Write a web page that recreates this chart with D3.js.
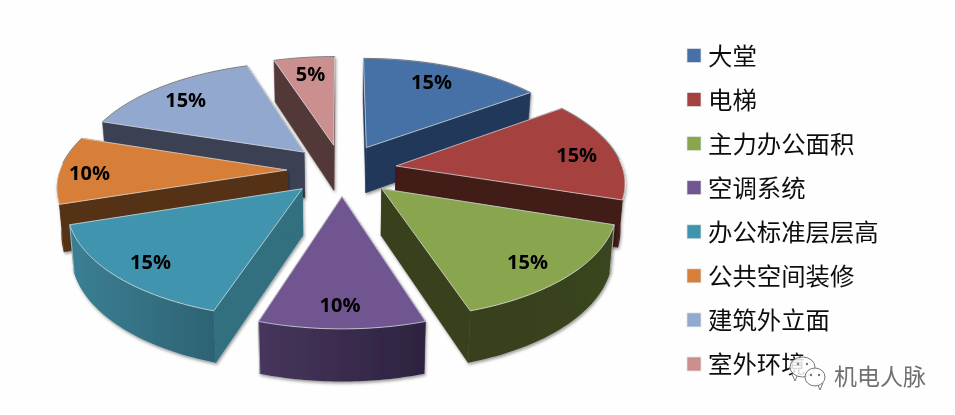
<!DOCTYPE html>
<html><head><meta charset="utf-8">
<script src="https://cdnjs.cloudflare.com/ajax/libs/d3/7.8.5/d3.min.js"></script>
<style>html,body{margin:0;padding:0;background:#fff;overflow:hidden}svg{display:block}</style>
</head><body><svg id="c" width="955" height="415"></svg>
<script>
const categories=["大堂","电梯","主力办公面积","空调系统","办公标准层层高","公共空间装修","建筑外立面","室外环境"];
const values=[15,15,15,10,15,10,15,5];
const labels=["15%","15%","15%","10%","15%","10%","15%","5%"];
const topColors=["#4571a7","#a54240","#89a54e","#6f5590","#3f94ad","#d77f39","#92a8cf","#cb8f8f"];
const sideColors=["#24395a","#431a18","#373f1c","#433253","#30707f","#543318","#3a4053","#533838"];
const arcColors=[["#24395a","#24395a"],["#431a18","#431a18"],["#373f1c","#3a4520"],["#47355c","#2d2340"],["#3b7f94","#2d6373"],["#543318","#543318"],["#3a4053","#3a4053"],["#533838","#533838"]];
const labelFrac=[.8,.8,.8,.8,.82,.87,.8,.8];
const labelDx=[-6,6,0,-2,-2,0,-4,1];
const labelDy=[0,2,4,5,2,2,1,0];
const drawOrder=[7,6,0,5,1,4,2,3];

const cx=342,cy=170,R=227,explode=55,tilt=.47,D=1700,depth=46,shrink=.016;
const svg=d3.select("#c");
const defs=svg.append("defs");
const f=defs.append("filter").attr("id","sh").attr("x","-10%").attr("y","-10%").attr("width","120%").attr("height","120%");
f.append("feDropShadow").attr("dx",1).attr("dy",2).attr("stdDeviation",1.4).attr("flood-color","#000").attr("flood-opacity",.38);
const soft=defs.append("filter").attr("id","soft").attr("x","-2%").attr("y","-2%").attr("width","104%").attr("height","104%");
soft.append("feGaussianBlur").attr("stdDeviation",.45);

svg.append("rect").attr("width",955).attr("height",415).attr("fill","#fefefe");
const root=svg.append("g").attr("filter","url(#soft)");

const pie=d3.pie().sort(null).value(d=>d);
const arcs=pie(values);
const line=d3.line();
const project=(X,Y,z=0)=>{const p=1/(1-Y/D),s=1-shrink*z/depth;return [cx+X*p*s,cy+Y*tilt*p*s+z*p];};
const world=(a,r,e,mid)=>[e*Math.sin(mid)+r*Math.sin(a),-e*Math.cos(mid)-r*Math.cos(a)];

arcColors.forEach((c,i)=>{
  const g=defs.append("linearGradient").attr("id","ag"+i);
  g.append("stop").attr("offset",0).attr("stop-color",c[0]);
  g.append("stop").attr("offset",1).attr("stop-color",c[1]);
});

const slices=root.selectAll("g.slice").data(drawOrder).join("g").attr("class","slice").attr("filter","url(#sh)");
slices.each(function(i){
  const d=arcs[i],g=d3.select(this),mid=(d.startAngle+d.endAngle)/2;
  const a0=d.startAngle,a1=d.endAngle;
  const P=(a,r,z)=>{const w=world(a,r,explode,mid);return project(w[0],w[1],z);};
  const sample=d3.range(0,41).map(t=>a0+(a1-a0)*t/40);
  const wall=(a)=>[P(a,0,0),P(a,R,0),P(a,R,depth),P(a,0,depth)];
  [a0,a1].forEach(a=>g.append("path").attr("d",line(wall(a))+"Z").attr("fill",sideColors[i]).attr("stroke",sideColors[i]).attr("stroke-width",.6));
  const front=sample.filter(a=>Math.cos(a)<0);
  if(front.length>1){
    const pts=front.map(a=>P(a,R,0)).concat(front.slice().reverse().map(a=>P(a,R,depth)));
    g.append("path").attr("d",line(pts)+"Z").attr("fill",`url(#ag${i})`).attr("stroke","none");
    const corner=Math.sin(mid)>0?a0:a1;
    if(Math.cos(corner)<0) g.append("path").attr("d",line([P(corner,R,0),P(corner,R,depth)])).attr("stroke","#c9ced0").attr("stroke-opacity",.7).attr("stroke-width",1);
  }
  const top=[P(a0,0,0)].concat(sample.map(a=>P(a,R,0)));
  g.append("path").attr("d",line(top)+"Z").attr("fill",topColors[i]).attr("stroke","#d9dde0").attr("stroke-opacity",.75).attr("stroke-width",1).attr("stroke-linejoin","round");
  const back=sample.filter(a=>Math.cos(a)>0.05);
  if(back.length>1) g.append("path").attr("d",line(back.map(a=>P(a,R,0)))).attr("fill","none").attr("stroke","#555").attr("stroke-opacity",.7).attr("stroke-width",1);
});

root.selectAll("text.val").data(drawOrder).join("text").attr("class","val")
  .each(function(i){
    const d=arcs[i],mid=(d.startAngle+d.endAngle)/2;
    const w=world(mid,R*labelFrac[i],explode,mid),q=project(w[0],w[1]);
    d3.select(this).attr("x",q[0]+labelDx[i]).attr("y",q[1]+labelDy[i]).text(labels[i]);
  })
  .attr("text-anchor","middle").attr("dominant-baseline","central")
  .attr("font-family","'Open Sans','Noto Sans',sans-serif").attr("font-weight",700).attr("font-size",20).attr("fill","#000");

const yLegend=d3.scalePoint().domain(categories).range([55.5,364]);
const leg=root.selectAll("g.leg").data(categories).join("g").attr("class","leg").attr("transform",d=>`translate(0,${yLegend(d)})`);
leg.append("rect").attr("x",687).attr("y",-7).attr("width",14).attr("height",14).attr("fill",(d,i)=>topColors[i]).attr("stroke","#e4e6ea").attr("stroke-width",.7);
leg.append("text").attr("x",708).attr("y",-1.5).attr("dominant-baseline","central").attr("font-family","'Noto Sans CJK SC',sans-serif").attr("font-size",24.4).attr("fill","#111").text(d=>d);

const wm=svg.append("g").attr("filter","url(#soft)");
const bub=(x,y,rx,ry,tx,ty)=>{
  wm.append("path").attr("d",`M${tx-3},${ty-3}L${tx},${ty+4}L${tx+3},${ty-3}`).attr("fill","#fff").attr("stroke","#777").attr("stroke-width",1);
  wm.append("ellipse").attr("cx",x).attr("cy",y).attr("rx",rx).attr("ry",ry).attr("fill","#fff").attr("fill-opacity",.85).attr("stroke","#777").attr("stroke-width",1);
};
bub(802.5,367,12.5,10,795,377);
bub(815,377,10,9,820,386);
wm.selectAll("circle.e").data([[798,364],[807,364],[811,375],[819,375]]).join("circle").attr("cx",d=>d[0]).attr("cy",d=>d[1]).attr("r",1.2).attr("fill","#777");
wm.append("text").attr("x",834).attr("y",374.5).attr("dominant-baseline","central").attr("font-family","'Noto Sans CJK SC',sans-serif").attr("font-size",23).attr("fill","#707070").text("机电人脉");
</script></body></html>
